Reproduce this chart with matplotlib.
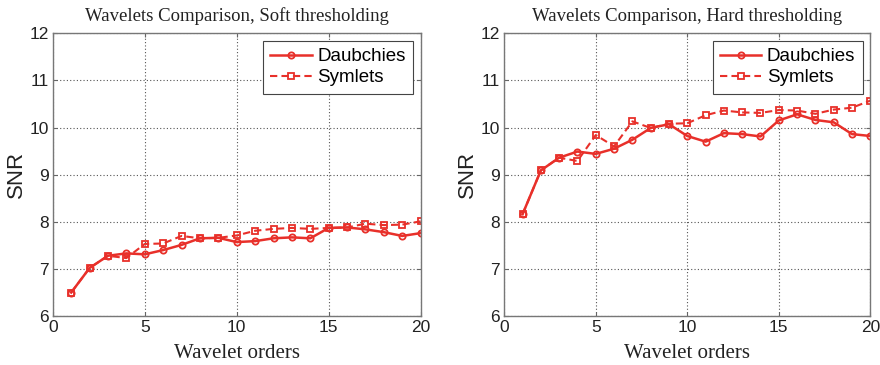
import matplotlib
matplotlib.use("Agg")
import matplotlib.pyplot as plt
import numpy as np

orders = list(range(1, 21))
soft_daub = [6.50, 7.02, 7.28, 7.33, 7.31, 7.40, 7.51, 7.65, 7.66, 7.57,
             7.59, 7.65, 7.67, 7.65, 7.87, 7.88, 7.84, 7.78, 7.70, 7.76]
soft_sym = [6.50, 7.02, 7.28, 7.23, 7.53, 7.54, 7.70, 7.65, 7.66, 7.71,
            7.81, 7.85, 7.87, 7.85, 7.87, 7.88, 7.96, 7.93, 7.94, 8.01]
hard_daub = [8.16, 9.09, 9.36, 9.49, 9.44, 9.55, 9.74, 9.99, 10.07, 9.82,
             9.70, 9.88, 9.86, 9.81, 10.15, 10.28, 10.16, 10.11, 9.86, 9.82]
hard_sym = [8.16, 9.09, 9.36, 9.29, 9.84, 9.60, 10.13, 9.99, 10.08, 10.09,
            10.26, 10.36, 10.32, 10.31, 10.37, 10.36, 10.29, 10.38, 10.42, 10.57]

titles = ["Wavelets Comparison, Soft thresholding", "Wavelets Comparison, Hard thresholding"]
xticks = [0, 5, 10, 15, 20]
yticks = [6, 7, 8, 9, 10, 11, 12]
series_names = ["Daubchies", "Symlets"]

red = "#e8302a"
serif = ["Liberation Serif", "DejaVu Serif"]
sans = ["Liberation Sans", "DejaVu Sans"]

fig = plt.figure(figsize=(8.8, 3.65), dpi=100)
ax1 = fig.add_axes([0.060, 0.134, 0.418, 0.775])
ax2 = fig.add_axes([0.573, 0.134, 0.416, 0.775])

for ax, title, d, s in [(ax1, titles[0], soft_daub, soft_sym), (ax2, titles[1], hard_daub, hard_sym)]:
    ax.plot(orders, d, color=red, lw=1.8, ls="-", marker="o", ms=4.5,
            mfc="none", mec=red, mew=1.3, label=series_names[0])
    ax.plot(orders, s, color=red, lw=1.5, ls=(0, (3.5, 2)), marker="s", ms=4.5,
            mfc="none", mec=red, mew=1.3, label=series_names[1])
    ax.set_xlim(0, 20)
    ax.set_ylim(6, 12)
    ax.set_xticks(xticks)
    ax.set_yticks(yticks)
    ax.grid(True, color="#555555", ls=(0, (1, 2)), lw=0.8)
    ax.tick_params(direction="in", length=3, labelsize=12.5, color="#666666", pad=3,
                   top=True, right=True)
    for lab in ax.get_xticklabels() + ax.get_yticklabels():
        lab.set_family(sans)
        lab.set_color("#222222")
    for sp in ax.spines.values():
        sp.set_color("#777777")
        sp.set_linewidth(1.0)
    ax.set_title(title, fontsize=13.5, family=serif, color="#222222", pad=9)
    ax.set_xlabel("Wavelet orders", fontsize=15, family=serif, color="#222222", labelpad=6)
    ax.set_ylabel("SNR", fontsize=16, family=sans, color="#222222", labelpad=2)
    leg = ax.legend(loc="upper right", prop={"family": sans, "size": 13.5},
                    fancybox=False, framealpha=1, edgecolor="#444444",
                    handlelength=2.2, borderaxespad=0.4, borderpad=0.4,
                    labelspacing=0.2, handletextpad=0.3)
    leg.get_frame().set_linewidth(0.8)

fig.savefig("out.png", dpi=100)
